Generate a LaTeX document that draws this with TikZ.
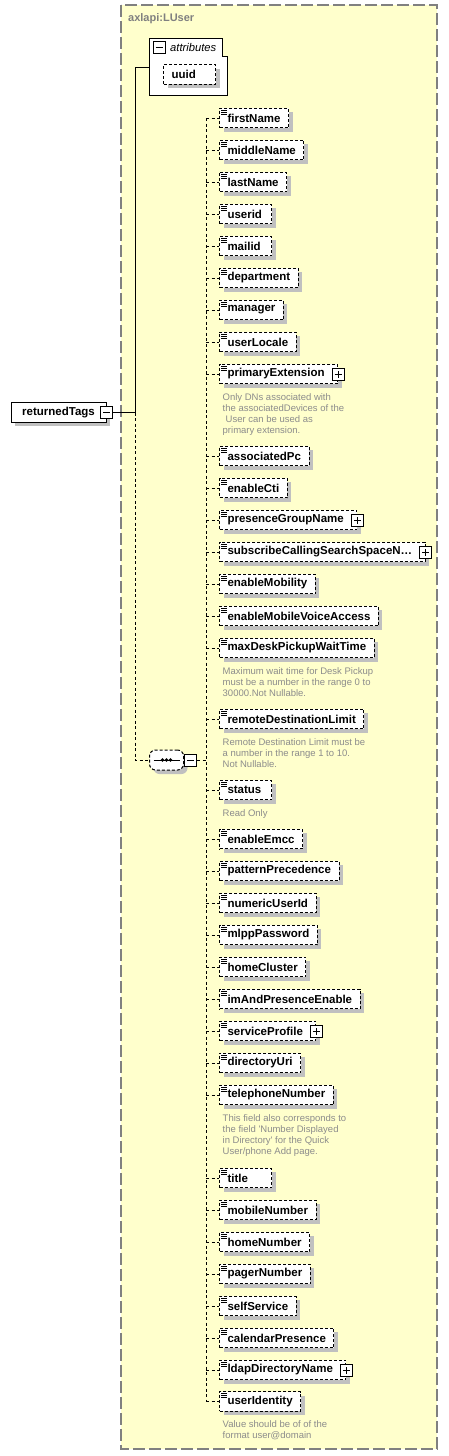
\documentclass[tikz,border=0pt]{standalone}
\usepackage{fontspec}
\setmainfont{Liberation Sans}
\usetikzlibrary{positioning,shadows}

\definecolor{paneyellow}{RGB}{255,255,204}
\definecolor{panegray}{RGB}{128,128,128}
\definecolor{notegray}{RGB}{140,140,140}
\definecolor{shadegray}{RGB}{192,192,192}

\tikzset{
  dropshade/.style={drop shadow={shadow xshift=4pt,shadow yshift=-4pt,fill=shadegray,opacity=1}},
  elembox/.style={draw,fill=white,line width=1pt,inner sep=0pt,minimum height=19.5pt,dropshade,
    font=\fontsize{11.5}{13}\selectfont\bfseries},
  elem/.style={elembox,dash pattern=on 3pt off 2pt,anchor=west,inner xsep=8pt,minimum width=52pt,
    path picture={\foreach \k in {1.7pt,3.7pt,5.7pt}
      \draw[solid,line width=.8pt] ([shift={(1.5pt,-\k)}]path picture bounding box.north west) -- +(6pt,0);}},
  shortelem/.style={elem,text width=36pt,align=left},
  collapsed/.style={elem,execute at end node={\hspace{5pt}}},
  conn/.style={line width=1pt,dash pattern=on 3pt off 2.5pt},
  tog/.style={draw,fill=white,line width=1pt,minimum size=12pt,inner sep=0pt},
  minustog/.style={tog,path picture={\draw[solid,line width=1pt]
    ([xshift=-3.5pt]path picture bounding box.center) -- ([xshift=3.5pt]path picture bounding box.center);}},
  plustog/.style={tog,path picture={\draw[solid,line width=1pt]
    ([xshift=-3.5pt]path picture bounding box.center) -- ([xshift=3.5pt]path picture bounding box.center)
    ([yshift=-3.5pt]path picture bounding box.center) -- ([yshift=3.5pt]path picture bounding box.center);}},
  note/.style={anchor=north west,inner sep=0pt,align=left,text=notegray,
    font=\fontsize{9.5}{11}\selectfont}
}

\begin{document}
\begin{tikzpicture}[x=1pt,y=-1pt]
  \useasboundingbox (0,0) rectangle (448,1456);
  % complex type pane
  \draw[panegray,fill=paneyellow,line width=1.3pt,dash pattern=on 12pt off 4pt]
    (121,5) rectangle (437,1449);
  \node[anchor=west,inner sep=0pt,text=panegray,font=\fontsize{11}{13}\selectfont\bfseries] (title) at (128,19) {axlapi:LUser};

  % attribute group
  \draw[fill=white,line width=1pt] (149,38) -- (222,38) -- (222,56) -- (227,56) -- (227,95) -- (149,95) -- cycle;
  \coordinate (attrs) at (149,67);
  \node[minustog] (attrTog) at (159,47) {};
  \node[anchor=west,inner sep=0pt,font=\fontsize{11.2}{13}\selectfont\itshape] (attrLabel) at (170,47.5) {attributes};
  \node[elembox,dash pattern=on 3pt off 2pt,anchor=west,inner xsep=8pt,text width=36pt,align=left] (uuid) at (163,74.5) {uuid};

  % root element
  \node[elembox,anchor=west,minimum width=95pt] (returnedTags) at (10.5,412.5) {returnedTags};
  \node[minustog] (rtTog) at (returnedTags.east) {};
  \coordinate[right=22pt of rtTog] (split);

  % sequence
  \node[elembox,dash pattern=on 3pt off 2pt,rounded corners=6pt,anchor=west,minimum width=34pt,minimum height=20pt] (seq) at (149,760) {};
  \draw[line width=1pt] ([xshift=-13pt]seq.center) -- ([xshift=13pt]seq.center);
  \foreach \d in {-4pt,0pt,4pt} \fill ([xshift=\d]seq.center) circle (1.9pt);
  \node[minustog,anchor=west] (seqTog) at (seq.east) {};
  \coordinate[right=9pt of seqTog] (bus);

  \draw[line width=1pt] (rtTog.east) -- (split) |- (attrs);
  \draw[conn] (split) |- (seq.west);
  \draw[conn] (seqTog.east) -- (bus);

  % child elements
  \foreach \n/\y in {firstName/118,middleName/150,lastName/182,
      department/278,manager/310,userLocale/342,associatedPc/456,enableCti/488,
      enableMobility/584,enableMobileVoiceAccess/616,maxDeskPickupWaitTime/648,
      remoteDestinationLimit/719,enableEmcc/839,patternPrecedence/871,
      numericUserId/903,mlppPassword/935,homeCluster/967,imAndPresenceEnable/999,
      directoryUri/1063,telephoneNumber/1095,mobileNumber/1210,homeNumber/1242,
      pagerNumber/1274,selfService/1306,calendarPresence/1338,userIdentity/1401.5} {
    \node[elem] (\n) at (219,\y) {\n};
    \draw[conn] (bus |- \n.west) -- (\n.west);
  }
  \foreach \n/\y in {userid/214,mailid/246,status/790,title/1178} {
    \node[shortelem] (\n) at (219,\y) {\n};
    \draw[conn] (bus |- \n.west) -- (\n.west);
  }
  \foreach \n/\y in {primaryExtension/374,presenceGroupName/520,serviceProfile/1031,
      ldapDirectoryName/1370} {
    \node[collapsed] (\n) at (219,\y) {\n};
    \draw[conn] (bus |- \n.west) -- (\n.west);
  }
  \node[collapsed] (subscribeCSS) at (219,552) {subscribeCallingSearchSpaceN\ldots};
  \draw[conn] (bus |- subscribeCSS.west) -- (subscribeCSS.west);
  \draw[conn] (bus |- firstName.west) -- (bus |- userIdentity.west);

  \foreach \n in {primaryExtension,presenceGroupName,subscribeCSS,serviceProfile,ldapDirectoryName}
    \node[plustog] (\n Tog) at (\n.east) {};

  % annotations
  \node[note] (peNote) at ([shift={(3.5pt,-8.8pt)}]primaryExtension.south west)
    {Only DNs associated with\\the associatedDevices of the\\\hspace{3pt}User can be used as\\primary extension.};
  \node[note] (maxNote) at ([shift={(3.5pt,-8.8pt)}]maxDeskPickupWaitTime.south west)
    {Maximum wait time for Desk Pickup\\must be a number in the range 0 to\\30000.Not Nullable.};
  \node[note] (remoteNote) at ([shift={(3.5pt,-8.8pt)}]remoteDestinationLimit.south west)
    {Remote Destination Limit must be\\a number in the range 1 to 10.\\Not Nullable.};
  \node[note] (statusNote) at ([shift={(3.5pt,-8.8pt)}]status.south west) {Read Only};
  \node[note] (telNote) at ([shift={(3.5pt,-8.8pt)}]telephoneNumber.south west)
    {This field also corresponds to\\the field \textquotesingle Number Displayed\\in Directory\textquotesingle{} for the Quick\\User/phone Add page.};
  \node[note] (identNote) at ([shift={(3.5pt,-8.8pt)}]userIdentity.south west)
    {Value should be of of the\\format user@domain};
\end{tikzpicture}
\end{document}
